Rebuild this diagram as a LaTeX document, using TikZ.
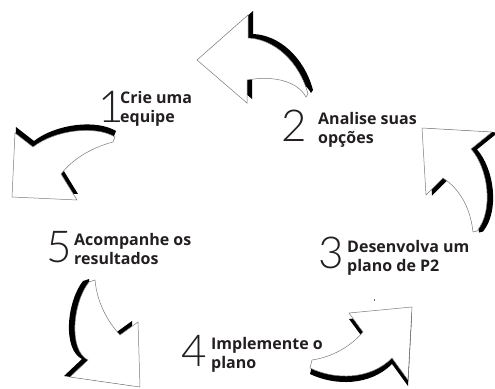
\documentclass[tikz,border=0pt]{standalone}
\usepackage{fontspec}
\setmainfont{Open Sans}
\newfontfamily\digitfont{Lato Light}
\definecolor{txt}{HTML}{231F20}
\definecolor{edgegray}{HTML}{7A7A7A}
\def\arrowA{(197,60) -- (248,15) -- (248,38) .. controls (274,39) and (299,61) .. (308,94) -- (306,97) .. controls (298,82) and (275,75) .. (247,80) -- (247,103) -- cycle}
\def\arrowB{(12,197) -- (15,133) -- (33,147) .. controls (55,130) and (95,125) .. (115,137) -- (113,142) .. controls (90,148) and (72,160) .. (61,174) -- (77,200) -- cycle}
\def\arrowC{(422,128) -- (492,132) -- (471,149) .. controls (488,168) and (494,210) .. (477,231) -- (473,232) .. controls (470,205) and (458,188) .. (443,178) -- (426,195) -- cycle}
\def\arrowD{(140,387) -- (138,322) -- (120,335) .. controls (108,322) and (97,303) .. (95,280) -- (89,282) .. controls (73,302) and (68,350) .. (88,360) -- (70,377) -- cycle}
\def\arrowE{(412,307) -- (349,313) -- (363,332) .. controls (350,347) and (332,357) .. (312,360) -- (310,368) .. controls (335,380) and (370,380) .. (392,358) -- (408,380) -- cycle}
\begin{document}
\begin{tikzpicture}[x=1pt,y=-1pt,
  arrowbody/.style={fill=white, draw=edgegray, line width=0.5pt, line join=miter},
  arrowshadow/.style={fill=black},
  steplabel/.style={font=\bfseries\fontsize{16}{19}\selectfont, text=txt, align=left, anchor=base west, inner sep=0pt},
  digit/.style={font=\digitfont\fontsize{44}{44}\selectfont, text=txt, anchor=base west, inner sep=0pt}]
\useasboundingbox (0,0) rectangle (495,388);
% arrow A (top, pointing left)
\fill[arrowshadow, shift={(5,-4)}] \arrowA;
\path[arrowbody] \arrowA;
% arrow B (left, pointing down-left)
\fill[arrowshadow, shift={(1,-6)}] \arrowB;
\path[arrowbody] \arrowB;
% arrow C (right, pointing up-left)
\fill[arrowshadow, shift={(6,0.5)}] \arrowC;
\path[arrowbody] \arrowC;
% arrow D (bottom left, pointing down-right)
\fill[arrowshadow, shift={(-6,-1)}] \arrowD;
\path[arrowbody] \arrowD;
% arrow E (bottom right, pointing up-right)
\fill[arrowshadow, shift={(0,6)}] \arrowE;
\path[arrowbody] \arrowE;
% stray mark
\fill[black!60] (373.5,299) rectangle (374.5,301);
% labels (anchor = baseline of the last line)
\node[digit] (n1) at (98,122) {1};
\node[steplabel] (t1) at (120,122.5) {Crie uma\\equipe};
\node[digit] (n2) at (281,141) {2};
\node[steplabel] (t2) at (318,143) {Analise suas\\opções};
\node[digit] (n3) at (318,268) {3};
\node[steplabel] (t3) at (347,271) {Desenvolva um\\plano de P2};
\node[digit] (n4) at (181,366) {4};
\node[steplabel] (t4) at (211,368) {Implemente o\\plano};
\node[digit] (n5) at (46,262) {5};
\node[steplabel] (t5) at (74,264) {Acompanhe os\\resultados};
\end{tikzpicture}
\end{document}
